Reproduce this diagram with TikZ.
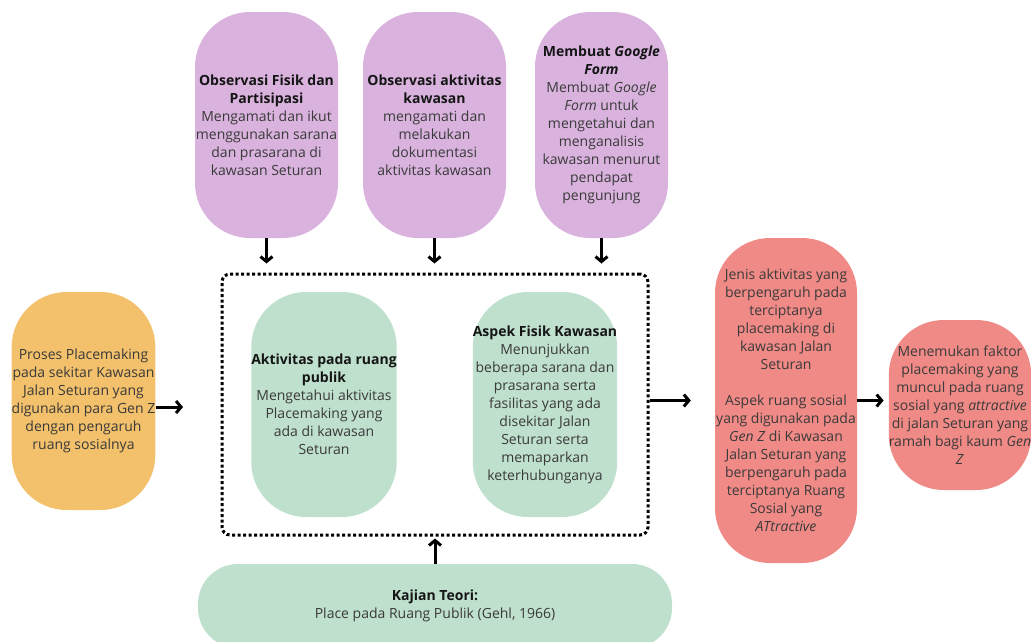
\documentclass[tikz,border=0pt]{standalone}
\usepackage{fontspec}
\setmainfont{Open Sans}
\usetikzlibrary{arrows.meta}
\definecolor{cOr}{HTML}{F3C06B}
\definecolor{cPu}{HTML}{D9B3DE}
\definecolor{cGr}{HTML}{BFE0CD}
\definecolor{cRd}{HTML}{F08A86}
\definecolor{cTx}{HTML}{3A3A3A}
\definecolor{cBd}{HTML}{151515}
\newcommand{\hd}[1]{\textbf{\color{cBd}#1}}
\begin{document}
\begin{tikzpicture}[x=1pt,y=-1pt,
 blob/.style={rounded corners=55pt, align=center, inner sep=0pt, text=cTx, font=\fontsize{14}{18}\selectfont},
 arr/.style={line width=3pt, -{Straight Barb[length=5pt,width=12pt]}},
 dotbox/.style={draw=black, line width=3pt, dash pattern=on 3pt off 2.5pt, rounded corners=8pt, inner sep=0pt},
]
\useasboundingbox (0,0) rectangle (1031,641);
\clip (0,0) rectangle (1031,641);

\node[blob, fill=cOr, minimum width=143pt, minimum height=218pt] (proc) at (83.5,401)
 {Proses Placemaking\\pada sekitar Kawasan\\Jalan Seturan yang\\digunakan para Gen Z\\dengan pengaruh\\ruang sosialnya};

\node[blob, fill=cPu, minimum width=143pt, minimum height=226pt] (p1) at (266.5,125)
 {\hd{Observasi Fisik dan}\\\hd{Partisipasi}\\Mengamati dan ikut\\menggunakan sarana\\dan prasarana di\\kawasan Seturan};
\node[blob, fill=cPu, minimum width=143pt, minimum height=226pt] (p2) at (434.5,125)
 {\hd{Observasi aktivitas}\\\hd{kawasan}\\mengamati dan\\melakukan\\dokumentasi\\aktivitas kawasan};
\node[blob, fill=cPu, minimum width=133pt, minimum height=226pt] (p3) at (601.5,125)
 {\hd{Membuat \textit{Google}}\\\hd{\textit{Form}}\\Membuat \textit{Google}\\\textit{Form} untuk\\mengetahui dan\\menganalisis\\kawasan menurut\\pendapat\\pengunjung};

\node[dotbox, minimum width=426pt, minimum height=261pt] (box) at (435,404.5) {};

\node[blob, fill=cGr, minimum width=142pt, minimum height=225pt] (g1) at (324,404.5)
 {\hd{Aktivitas pada ruang}\\\hd{publik}\\Mengetahui aktivitas\\Placemaking yang\\ada di kawasan\\Seturan};
\node[blob, fill=cGr, minimum width=144pt, minimum height=225pt] (g2) at (545,404.5)
 {\hd{Aspek Fisik Kawasan}\\Menunjukkan\\beberapa sarana dan\\prasarana serta\\fasilitas yang ada\\disekitar Jalan\\Seturan serta\\memaparkan\\keterhubunganya};

\node[blob, fill=cRd, minimum width=142pt, minimum height=325pt] (r1) at (786,400.5)
 {Jenis aktivitas yang\\berpengaruh pada\\terciptanya\\placemaking di\\kawasan Jalan\\Seturan\\[18pt]Aspek ruang sosial\\yang digunakan pada\\\textit{Gen Z} di Kawasan\\Jalan Seturan yang\\berpengaruh pada\\terciptanya Ruang\\Sosial yang\\\textit{ATtractive}};
\node[blob, fill=cRd, minimum width=140pt, minimum height=170pt] (r2) at (960,405)
 {Menemukan faktor\\placemaking yang\\muncul pada ruang\\sosial yang \textit{attractive}\\di jalan Seturan yang\\ramah bagi kaum \textit{Gen}\\\textit{Z}};

\node[blob, rounded corners=40pt, fill=cGr, minimum width=474pt, minimum height=84pt] (kaj) at (435,606)
 {\hd{Kajian Teori:}\\Place pada Ruang Publik (Gehl, 1966)};

\coordinate (a1) at (183,407);
\draw[arr] (proc.east |- a1) -- (a1);
\draw[arr, shorten >=9pt] (p1.south) -- (p1.south |- box.north);
\draw[arr, shorten >=9pt] (p2.south) -- (p2.south |- box.north);
\draw[arr, shorten >=9pt] (p3.south) -- (p3.south |- box.north);
\draw[arr, shorten >=2pt] (kaj.north) -- (kaj.north |- box.south);
\draw[arr, shorten >=24pt] (box.east |- r1.west) -- (r1.west);
\draw[arr, shorten >=5pt] (r1.east) -- (r1.east -| r2.west);
\end{tikzpicture}
\end{document}
